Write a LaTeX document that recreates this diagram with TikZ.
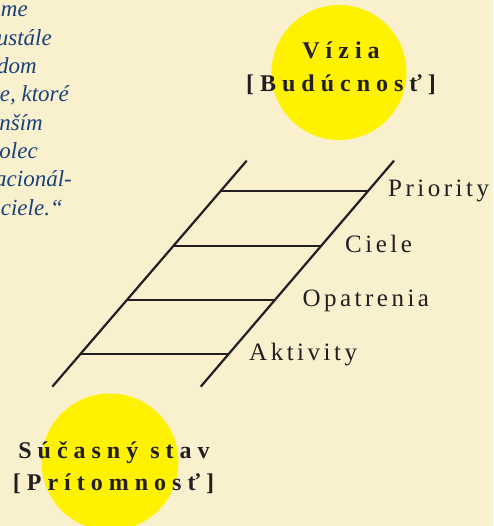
\documentclass[tikz,border=0pt]{standalone}
\usepackage{fontspec}
\setmainfont{Liberation Serif}
\newfontfamily\spaced[LetterSpace=14]{Liberation Serif}
\newfontfamily\wide[LetterSpace=25]{Liberation Serif}
\usepackage{xcolor}
\usetikzlibrary{positioning,calc}
\definecolor{paper}{RGB}{249,240,206}
\definecolor{sun}{RGB}{255,242,0}
\definecolor{ink}{RGB}{35,31,32}
\definecolor{quote}{RGB}{24,66,122}

\begin{document}
\begin{tikzpicture}[x=1pt, y=-1pt,
    sunc/.style={circle, fill=sun, minimum size=#1, inner sep=0pt},
    title/.style={font=\wide\bfseries\fontsize{24}{28}\selectfont, text=ink, anchor=base, inner sep=0pt},
    lbl/.style={font=\spaced\fontsize{25}{28}\selectfont, text=ink, anchor=base west, inner sep=0pt},
    qt/.style={font=\itshape\fontsize{23}{28}\selectfont, text=quote, anchor=base east, inner sep=0pt},
    rail/.style={line width=2.2pt, draw=ink}]

    % Page
    \clip (0,0) rectangle (493,526);
    \fill[paper] (0,0) rectangle (493,526);

    % Quote (cut at the left edge)
    \foreach \txt/\xe [count=\i] in {me/28, ustále/52, dom/37, {e, ktoré}/69,
        nším/43, olec/38, acionál-/72, ciele.“/63}
        \node[qt] (q\i) at (\xe, 17+28.3*\i-28.3) {\txt};

    % Suns
    \node[sunc=135pt] (fut) at (339,72.5) {};
    \node[sunc=137pt] (now) at (110,462) {};

    \node[title] (viz) at (341,59) {Vízia};
    \node[title] (bud) at (341,92) {[Budúcnosť]};
    \node[title] (sta) at (114,458) {Súčasný stav};
    \node[title] (pri) at (113.5,490) {[Prítomnosť]};

    % Ladder
    \coordinate (lt) at (246.7,160.7);
    \coordinate (lb) at (52.3,386.7);
    \coordinate (rt) at (394,160.7);
    \coordinate (rb) at (200.7,386.7);
    \draw[rail] (lt) -- (lb);
    \draw[rail] (rt) -- (rb);
    \foreach \t [count=\i] in {0.134,0.376,0.615,0.854}{
        \coordinate (l\i) at ($(lt)!\t!(lb)$);
        \coordinate (r\i) at ($(rt)!\t!(rb)$);
        \draw[rail] (l\i) -- (r\i);
    }

    % Steps
    \node[lbl] (s1) at (388,197) {Priority};
    \node[lbl] (s2) at (345,252) {Ciele};
    \node[lbl] (s3) at (302.3,306) {Opatrenia};
    \node[lbl] (s4) at (249,360) {Aktivity};

\end{tikzpicture}
\end{document}
